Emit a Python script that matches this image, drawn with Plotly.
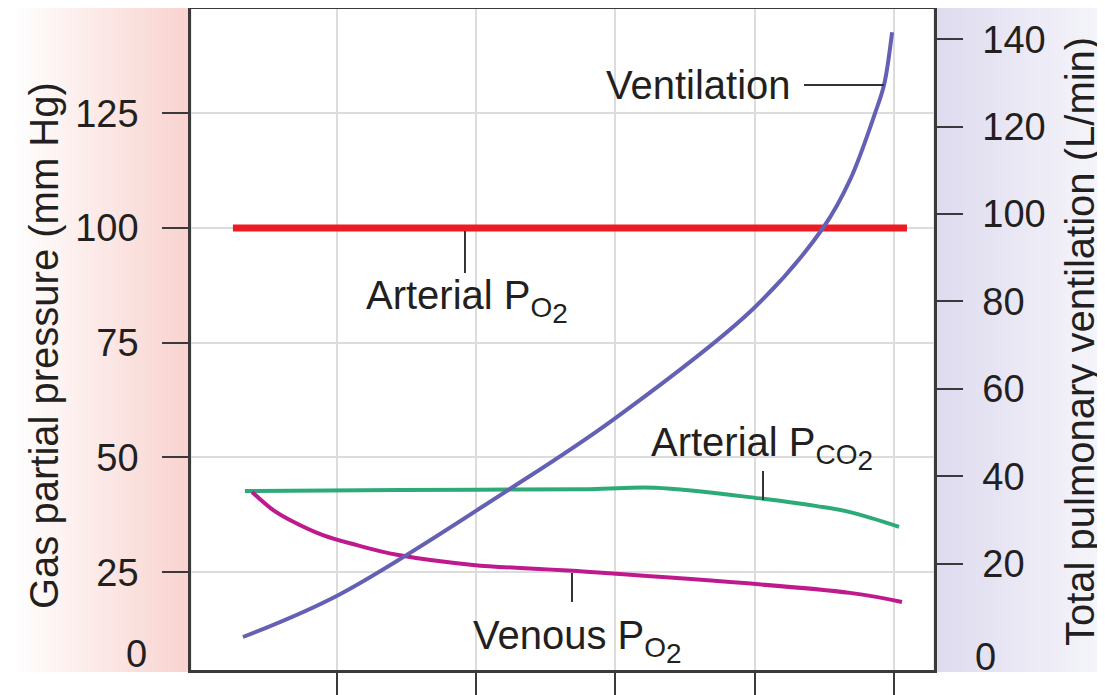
import plotly.graph_objects as go

# ---------------- data ----------------
x_ticks = [1, 2, 3, 4, 5]
left_ticks = [25, 50, 75, 100, 125]
right_ticks = [20, 40, 60, 80, 100, 120, 140]

art_po2_x = [0.253, 5.093]
art_po2_y = [100, 100]

art_pco2_x = [0.339, 1.452, 2.817, 3.284, 4.059, 4.447, 4.684, 5.036]
art_pco2_y = [42.7, 42.9, 43.1, 43.4, 41.0, 39.4, 38.1, 34.9]

ven_po2_x = [0.390, 0.540, 0.662, 0.899, 1.144, 1.431, 1.977, 2.695, 4.684, 5.057]
ven_po2_y = [42.5, 38.6, 36.4, 33.1, 30.9, 28.8, 26.6, 25.3, 20.5, 18.5]

vent_x = [0.325, 1.022, 2.242, 2.982, 3.995, 4.490, 4.684, 4.864, 4.928, 4.986]
vent_y = [3.2, 13.0, 37.1, 52.9, 78.5, 96.8, 107.8, 123.1, 129.5, 141.6]

# ---------------- styling ----------------
FONT = "Liberation Sans"
TXT = "#231F20"
AX = "#3a3a3a"
GRID = "#dcdcdc"

# The page body has an 8px margin, so the figure is drawn at (8, 8) in the window.
OFF = 8
WIN_W, WIN_H = 1105, 695
W, H = WIN_W - OFF, WIN_H - OFF
# plot area in window pixels
PL, PR, PT, PB = 191, 934, 9, 670
ML, MR, MT, MB = PL - OFF, WIN_W - PR, PT - OFF, WIN_H - PB
PW, PH = PR - PL, PB - PT


def X(px):
    return (px - 337) / 139.25 + 1


def YL(py):
    return 100 - (py - 228) / 4.59


def PX(px):
    return (px - PL) / PW


def PY(py):
    return (PB - py) / PH


fig = go.Figure()

fig.add_trace(go.Scatter(x=art_po2_x, y=art_po2_y, mode="lines",
                         line=dict(color="#ED1C24", width=7), hoverinfo="skip"))
fig.add_trace(go.Scatter(x=art_pco2_x, y=art_pco2_y, mode="lines",
                         line=dict(color="#2DAA78", width=4, shape="spline", smoothing=1.0),
                         hoverinfo="skip"))
fig.add_trace(go.Scatter(x=ven_po2_x, y=ven_po2_y, mode="lines",
                         line=dict(color="#BE1A8E", width=4, shape="spline", smoothing=1.0),
                         hoverinfo="skip"))
fig.add_trace(go.Scatter(x=vent_x, y=vent_y, mode="lines", yaxis="y2",
                         line=dict(color="#6460B4", width=4, shape="spline", smoothing=1.0),
                         hoverinfo="skip"))

shapes = []
# gradient backgrounds in the margins
n = 44
x0, x1 = 15, PL
for i in range(n):
    a = x0 + (x1 - x0) * i / n
    b = x0 + (x1 - x0) * (i + 1) / n + 0.6
    t = (i + 0.5) / n
    c = (int(255 - 6 * t), int(255 - 44 * t), int(255 - 48 * t))
    shapes.append(dict(type="rect", xref="paper", yref="paper",
                       x0=PX(a), x1=PX(b), y0=PY(672), y1=PY(5),
                       fillcolor="rgb(%d,%d,%d)" % c, line=dict(width=0), layer="below"))
x0, x1 = PR, WIN_W
for i in range(n):
    a = x0 + (x1 - x0) * i / n - 0.6
    b = x0 + (x1 - x0) * (i + 1) / n
    t = (i + 0.5) / n
    c = (int(222 + 24 * t), int(219 + 27 * t), int(239 + 12 * t))
    shapes.append(dict(type="rect", xref="paper", yref="paper",
                       x0=PX(a), x1=PX(b), y0=PY(672), y1=PY(5),
                       fillcolor="rgb(%d,%d,%d)" % c, line=dict(width=0), layer="below"))

# leader lines
lead = dict(color="#333333", width=2)
shapes.append(dict(type="line", xref="x", yref="y", x0=X(804), x1=X(884),
                   y0=YL(85), y1=YL(85), line=lead))
shapes.append(dict(type="line", xref="x", yref="y", x0=X(465), x1=X(465),
                   y0=YL(231), y1=YL(273), line=lead))
shapes.append(dict(type="line", xref="x", yref="y", x0=X(763), x1=X(763),
                   y0=YL(471), y1=YL(500), line=lead))
shapes.append(dict(type="line", xref="x", yref="y", x0=X(572), x1=X(572),
                   y0=YL(573), y1=YL(602), line=lead))

SUB2 = "<sub>%s<sub><span style=\"font-size:28px\">2</span></sub></sub>"
lab_font = dict(family=FONT, size=40, color=TXT)
annotations = [
    dict(text="Ventilation", x=X(793), y=YL(85), xref="x", yref="y",
         xanchor="right", yanchor="middle", showarrow=False, font=lab_font),
    dict(text="Arterial P" + SUB2 % "O", x=X(364), y=YL(301), xref="x", yref="y",
         xanchor="left", yanchor="middle", showarrow=False, font=lab_font),
    dict(text="Arterial P" + SUB2 % "CO", x=X(649), y=YL(448), xref="x", yref="y",
         xanchor="left", yanchor="middle", showarrow=False, font=lab_font),
    dict(text="Venous P" + SUB2 % "O", x=X(471), y=YL(641), xref="x", yref="y",
         xanchor="left", yanchor="middle", showarrow=False, font=lab_font),
    # "0" labels placed at the foot of each axis as in the reference
    dict(text="0", x=PX(149), y=PY(654), xref="paper", yref="paper",
         xanchor="right", yanchor="middle", showarrow=False,
         font=dict(family=FONT, size=38, color=TXT)),
    dict(text="0", x=PX(973), y=PY(657), xref="paper", yref="paper",
         xanchor="left", yanchor="middle", showarrow=False,
         font=dict(family=FONT, size=38, color=TXT)),
    # axis titles
    dict(text="Gas partial pressure (mm Hg)", x=PX(44), y=PY(346), xref="paper", yref="paper",
         xanchor="center", yanchor="middle", textangle=-90, showarrow=False,
         font=dict(family=FONT, size=40, color=TXT)),
    dict(text="Total pulmonary ventilation (L/min)", x=PX(1080), y=PY(342), xref="paper",
         yref="paper", xanchor="center", yanchor="middle", textangle=-90, showarrow=False,
         font=dict(family=FONT, size=40, color=TXT)),
]

fig.update_layout(
    width=W, height=H,
    margin=dict(l=ML, r=MR, t=MT, b=MB, pad=0, autoexpand=False),
    paper_bgcolor="white", plot_bgcolor="white",
    showlegend=False,
    font=dict(family=FONT, color=TXT),
    shapes=shapes, annotations=annotations,
    xaxis=dict(range=[-0.048, 5.287], tickvals=x_ticks, ticktext=[""] * len(x_ticks),
               ticks="outside", ticklen=30, tickwidth=2, tickcolor=AX, automargin=False,
               showgrid=True, gridcolor=GRID, gridwidth=2, zeroline=False,
               showline=True, linecolor=AX, linewidth=2.5, mirror=True),
    yaxis=dict(range=[3.70, 147.71], tickvals=left_ticks, ticks="outside", ticklen=26,
               tickwidth=2, tickcolor=AX, ticklabelstandoff=16, automargin=False,
               tickfont=dict(family=FONT, size=38, color=TXT),
               showgrid=True, gridcolor=GRID, gridwidth=2, zeroline=False,
               showline=True, linecolor=AX, linewidth=2.5),
    yaxis2=dict(range=[-4.35, 146.91], overlaying="y", side="right", tickvals=right_ticks,
                ticks="outside", ticklen=26, tickwidth=2, tickcolor=AX, ticklabelstandoff=12,
                automargin=False, tickfont=dict(family=FONT, size=38, color=TXT),
                showgrid=False, zeroline=False, showline=True, linecolor=AX, linewidth=2.5),
)

fig.write_html("out.html")
